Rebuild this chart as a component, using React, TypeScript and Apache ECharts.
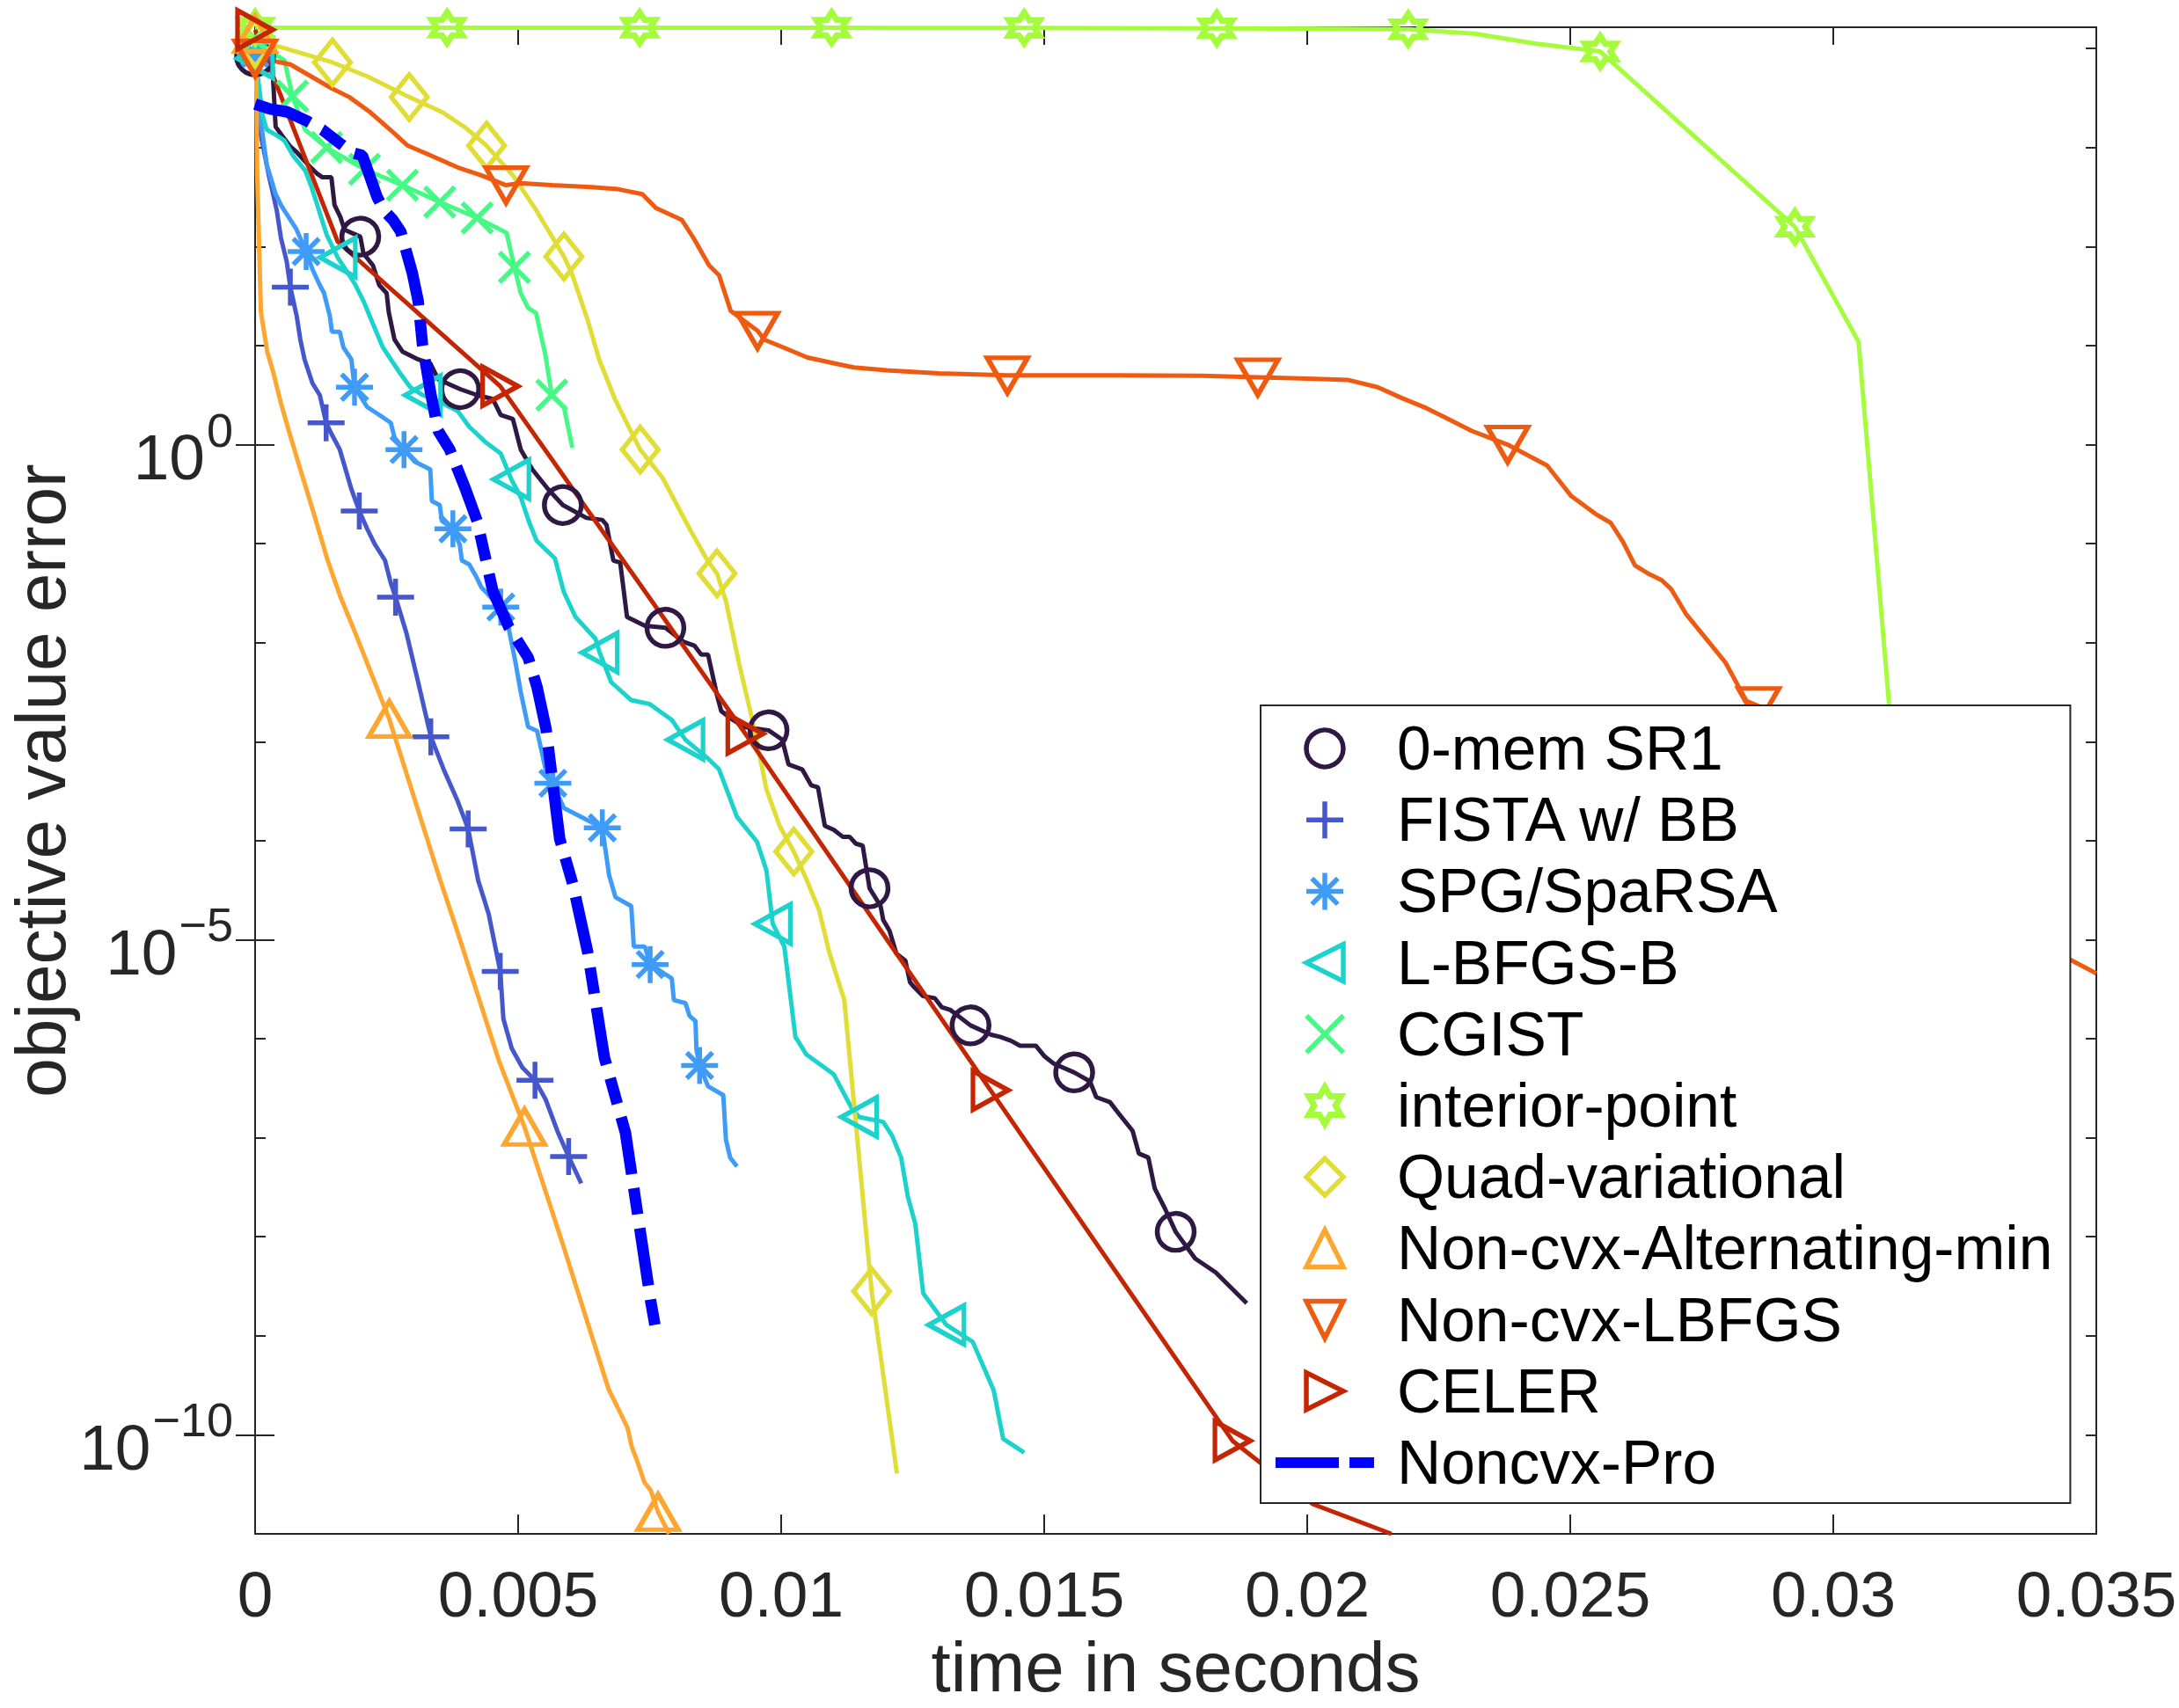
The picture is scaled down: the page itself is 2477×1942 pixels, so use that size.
import React, { useEffect, useRef } from 'react';
import * as echarts from 'echarts';

const FONT = '"Liberation Sans", Arial, Helvetica, sans-serif';
const AXIS_COLOR = '#262626';

// axis ranges / ticks
const X_MIN = 0;
const X_MAX = 0.035;
const X_INTERVAL = 0.005;
const Y_MIN = 1e-11;
const Y_MAX = Math.pow(10, 4.215);
const Y_LABEL_VALUES = [1, 1e-5, 1e-10];

const seriesNames = [
  '0-mem SR1',
  'FISTA w/ BB',
  'SPG/SpaRSA',
  'L-BFGS-B',
  'CGIST',
  'interior-point',
  'Quad-variational',
  'Non-cvx-Alternating-min',
  'Non-cvx-LBFGS',
  'CELER',
  'Noncvx-Pro',
];

const seriesColors = [
  '#2f1843',
  '#4557cb',
  '#3e9cf8',
  '#1bd3cc',
  '#46f884',
  '#a4fc3c',
  '#e1dd37',
  '#fda630',
  '#ef5a11',
  '#c42503',
  '#0000ff',
];

// points: [time (s), log10(objective value error), marker flag]
const sr1 = [
  [0, 3.92, 1], [0.00033, 3.81], [0.00039, 3.21], [0.0005, 3.13], [0.00067, 3.01], [0.00078, 2.96],
  [0.001, 2.83], [0.00117, 2.74], [0.00128, 2.7], [0.00145, 2.7], [0.00151, 2.42], [0.00162, 2.3],
  [0.0017, 2.17], [0.002, 2.1, 1], [0.00206, 1.93], [0.00224, 1.81], [0.00236, 1.61], [0.0025, 1.53],
  [0.00254, 1.34], [0.00265, 1.06], [0.0028, 0.94], [0.0031, 0.86], [0.00333, 0.82], [0.00348, 0.66],
  [0.0039, 0.56, 1], [0.00422, 0.5], [0.00452, 0.46], [0.00467, 0.3], [0.0049, 0.26], [0.00505, -0.05],
  [0.00527, -0.25], [0.00557, -0.45], [0.00585, -0.61, 1], [0.0063, -0.74], [0.0066, -0.76], [0.00668, -0.81],
  [0.00681, -1.17], [0.00694, -1.19], [0.00707, -1.74], [0.00741, -1.83], [0.0078, -1.85, 1], [0.00814, -1.99],
  [0.00835, -2.03], [0.00848, -2.12], [0.00861, -2.12], [0.00878, -2.53], [0.00886, -2.69], [0.00903, -2.76],
  [0.00929, -2.85], [0.00976, -2.885, 1], [0.01002, -2.98], [0.01014, -3.23], [0.0104, -3.28], [0.01057, -3.44],
  [0.0107, -3.46], [0.01083, -3.85], [0.011, -3.89], [0.01117, -3.96], [0.0113, -3.96], [0.01142, -4.03],
  [0.01155, -4.05], [0.01168, -4.48, 1], [0.01189, -4.66], [0.01194, -4.8], [0.01206, -4.91], [0.01219, -5.14],
  [0.01236, -5.21], [0.01245, -5.43], [0.01253, -5.48], [0.0127, -5.57], [0.01292, -5.59], [0.01305, -5.68],
  [0.01322, -5.71], [0.0136, -5.865, 1], [0.01399, -5.96], [0.01416, -5.98], [0.01437, -6.02], [0.01454, -6.07],
  [0.01484, -6.07], [0.01501, -6.18], [0.01518, -6.25], [0.01557, -6.34, 1], [0.01587, -6.43], [0.01599, -6.59],
  [0.01625, -6.64], [0.01638, -6.73], [0.01668, -6.93], [0.0168, -7.16], [0.01698, -7.2], [0.0171, -7.51],
  [0.0173, -7.72], [0.0175, -7.95, 1], [0.01787, -8.22], [0.01826, -8.36], [0.01885, -8.67],
];

const fista = [
  [0, 3.9, 1], [0.00006, 3.5], [0.00011, 3.12], [0.00026, 2.72], [0.00041, 2.37], [0.00049, 2.09],
  [0.0006, 1.85], [0.00067, 1.59, 1], [0.00079, 1.3], [0.00086, 1.06], [0.00094, 0.86], [0.00109, 0.62],
  [0.00123, 0.5], [0.00135, 0.22, 1], [0.00146, 0.1], [0.00161, -0.05], [0.00172, -0.25], [0.00183, -0.45],
  [0.00198, -0.67, 1], [0.00213, -0.85], [0.00228, -1.01], [0.00247, -1.17], [0.00258, -1.4], [0.00267, -1.54, 1],
  [0.00288, -1.91], [0.0031, -2.4], [0.00334, -2.95, 1], [0.0036, -3.3], [0.00385, -3.6], [0.00405, -3.88, 1],
  [0.00424, -4.4], [0.00444, -4.74], [0.00466, -5.32, 1], [0.00472, -5.8], [0.00488, -6.1], [0.00508, -6.29],
  [0.00532, -6.42, 1], [0.00552, -6.61], [0.00576, -6.95], [0.00596, -7.19, 1], [0.0062, -7.46],
];

const spg = [
  [0, 3.95, 1], [0.0001, 3.3], [0.00022, 2.83], [0.00039, 2.53], [0.0005, 2.41], [0.00078, 2.18],
  [0.00097, 1.95, 1], [0.00109, 1.77], [0.00123, 1.61], [0.00131, 1.53], [0.00142, 1.3], [0.00146, 1.14],
  [0.00161, 1.14], [0.00168, 0.98], [0.00183, 0.86], [0.00189, 0.58, 1], [0.00213, 0.38], [0.00236, 0.3],
  [0.00258, 0.22], [0.00265, 0.07], [0.00283, -0.05, 1], [0.00303, -0.17], [0.00333, -0.25], [0.00336, -0.57],
  [0.00351, -0.61], [0.00355, -0.77], [0.00376, -0.85, 1], [0.00389, -1.01], [0.00393, -1.17], [0.00407, -1.21],
  [0.00419, -1.32], [0.0043, -1.44], [0.00467, -1.64, 1], [0.0048, -1.8], [0.00495, -2.2], [0.00505, -2.5],
  [0.00519, -2.85], [0.00536, -2.89], [0.00553, -3.3], [0.00566, -3.42, 1], [0.00587, -3.67], [0.0066, -3.87, 1],
  [0.00673, -4.35], [0.00685, -4.57], [0.00715, -4.66], [0.0072, -5.07], [0.00741, -5.07], [0.00751, -5.25, 1],
  [0.00792, -5.39], [0.00796, -5.61], [0.00818, -5.64], [0.00826, -5.77], [0.00837, -5.82], [0.00839, -6.11],
  [0.00845, -6.27, 1], [0.00861, -6.48], [0.0089, -6.57], [0.00895, -7.02], [0.00903, -7.2], [0.00916, -7.29],
];

const lbfgsb = [
  [0, 3.9, 1], [0.00008, 3.6], [0.00014, 3.33], [0.00022, 3.18], [0.00039, 3.13], [0.00056, 3.07],
  [0.00072, 2.92], [0.00095, 2.77], [0.00106, 2.62], [0.00117, 2.44], [0.00136, 2.12], [0.00157, 1.89, 1],
  [0.00172, 1.77], [0.00191, 1.61], [0.00206, 1.45], [0.00224, 1.22], [0.00243, 0.98], [0.00258, 0.86],
  [0.00273, 0.74], [0.00295, 0.58], [0.00319, 0.5, 1], [0.00355, 0.42], [0.00385, 0.34], [0.00407, 0.18],
  [0.00437, 0.03], [0.00467, -0.09], [0.00487, -0.35, 1], [0.00505, -0.53], [0.0052, -0.77], [0.00535, -0.97],
  [0.0057, -1.15], [0.00587, -1.49], [0.00609, -1.74], [0.00647, -1.96], [0.00655, -2.1, 1], [0.00677, -2.4],
  [0.00715, -2.58], [0.0075, -2.62], [0.00792, -2.78], [0.00818, -2.98, 1], [0.00861, -3.17], [0.00882, -3.28],
  [0.00916, -3.76], [0.00954, -4.01], [0.00972, -4.3], [0.00984, -4.84, 1], [0.01006, -5.07], [0.01027, -5.98],
  [0.01048, -6.16], [0.011, -6.36], [0.01134, -6.7], [0.01148, -6.79, 1], [0.01194, -6.84], [0.01211, -6.98],
  [0.01228, -7.2], [0.01241, -7.6], [0.01255, -7.87], [0.0127, -8.57], [0.01314, -8.89, 1], [0.01364, -9.06],
  [0.01404, -9.55], [0.01422, -10.04], [0.01462, -10.18],
];

const cgist = [
  [0, 4.1, 1], [0.00035, 3.95], [0.00056, 3.88], [0.00071, 3.52, 1], [0.00095, 3.18], [0.00136, 3.0, 1],
  [0.00208, 2.78, 1], [0.0028, 2.62, 1], [0.00351, 2.45, 1], [0.00422, 2.29, 1], [0.00478, 2.14],
  [0.00493, 1.79, 1], [0.00505, 1.53], [0.00519, 1.38], [0.00534, 1.33], [0.00552, 0.9], [0.00564, 0.5, 1],
  [0.00587, 0.38], [0.00603, -0.03],
];

const interiorPoint = [
  [0, 4.21, 1], [0.00365, 4.21, 1], [0.00731, 4.21, 1], [0.01096, 4.21, 1], [0.01462, 4.208, 1],
  [0.01828, 4.205, 1], [0.02192, 4.196, 1], [0.02318, 4.15], [0.02433, 4.05], [0.02557, 3.97, 1],
  [0.02927, 2.2, 1], [0.03048, 1.04], [0.03106, -2.62], [0.0318, -7.3],
];

const quadVar = [
  [0, 4.05, 1], [0.00045, 4.02], [0.00147, 3.86, 1], [0.00213, 3.72], [0.00293, 3.51, 1], [0.00355, 3.36],
  [0.004, 3.2], [0.0044, 3.02, 1], [0.0049, 2.72], [0.00534, 2.37], [0.00587, 1.9, 1], [0.00602, 1.73],
  [0.00632, 1.26], [0.00654, 0.86], [0.00684, 0.46], [0.00714, 0.14], [0.00732, -0.05, 1], [0.00774, -0.33],
  [0.00826, -0.85], [0.0086, -1.17], [0.00878, -1.3, 1], [0.00895, -1.58], [0.0092, -2.21], [0.00946, -2.8],
  [0.00972, -3.48], [0.00997, -3.85], [0.01024, -4.11, 1], [0.01048, -4.39], [0.01072, -4.7], [0.01091, -5.12],
  [0.0112, -5.61], [0.01172, -8.55, 1], [0.0122, -10.39],
];

const altMin = [
  [0, 4.15, 1], [0.00002, 3.9], [0.00004, 2.72], [0.00008, 1.93], [0.00011, 1.34], [0.00023, 0.94],
  [0.00034, 0.74], [0.00049, 0.42], [0.00064, 0.14], [0.00086, -0.25], [0.00109, -0.65], [0.00138, -1.17],
  [0.00161, -1.52], [0.00191, -1.91], [0.00255, -2.77, 1], [0.00352, -4.4], [0.00384, -4.91], [0.00464, -6.23],
  [0.00512, -6.89, 1], [0.00584, -8.06], [0.00672, -9.54], [0.00688, -9.71], [0.00708, -9.93], [0.00716, -10.12],
  [0.00728, -10.29], [0.0074, -10.48], [0.00752, -10.56], [0.00766, -10.78, 1], [0.00787, -11.0],
];

const ncvxLbfgs = [
  [0, 3.9, 1], [0.00011, 3.87], [0.00039, 3.87], [0.00067, 3.84], [0.00106, 3.72], [0.00145, 3.6],
  [0.00179, 3.51], [0.00218, 3.36], [0.00257, 3.18], [0.0029, 3.02], [0.00325, 2.94], [0.00385, 2.8],
  [0.0043, 2.72], [0.00477, 2.62, 1], [0.00504, 2.64], [0.00564, 2.62], [0.00639, 2.6], [0.0069, 2.58],
  [0.00736, 2.53], [0.00762, 2.39], [0.00811, 2.27], [0.00833, 2.09], [0.00863, 1.81], [0.00882, 1.71],
  [0.00904, 1.35], [0.00955, 1.15, 1], [0.00968, 1.06], [0.01005, 0.98], [0.0105, 0.88], [0.01102, 0.82],
  [0.01138, 0.78], [0.012, 0.75], [0.013, 0.72], [0.0143, 0.7, 1], [0.016, 0.7], [0.018, 0.695],
  [0.01906, 0.68, 1], [0.01973, 0.67], [0.02077, 0.654], [0.02134, 0.58], [0.0218, 0.47], [0.02226, 0.37],
  [0.0226, 0.28], [0.02312, 0.14], [0.02381, 0.0, 1], [0.02456, -0.21], [0.02502, -0.52], [0.02548, -0.7],
  [0.02577, -0.79], [0.026, -0.98], [0.02623, -1.22], [0.02651, -1.31], [0.02674, -1.37], [0.02692, -1.46],
  [0.0272, -1.71], [0.02766, -2.01], [0.02795, -2.2], [0.02835, -2.59], [0.02858, -2.64, 1], [0.0316, -4.0],
  [0.0345, -5.2], [0.035, -5.34],
];

const celer = [
  [0, 4.19, 1], [0.00157, 2.05], [0.00466, 0.59, 1], [0.00932, -2.92, 1], [0.01398, -6.52, 1],
  [0.01858, -10.06, 1], [0.02011, -10.7], [0.0216, -11.0],
];

const noncvxPro = [
  [0, 3.44], [0.00028, 3.39], [0.00061, 3.36], [0.00098, 3.27], [0.00128, 3.18], [0.00162, 3.04],
  [0.00184, 2.95], [0.00204, 2.92], [0.00218, 2.71], [0.00232, 2.5], [0.00246, 2.36], [0.00262, 2.27],
  [0.00277, 2.15], [0.00299, 1.73], [0.0031, 1.45], [0.00318, 1.02], [0.00333, 0.54], [0.00348, 0.14],
  [0.0037, -0.05], [0.004, -0.45], [0.00422, -0.77], [0.00452, -1.48], [0.00482, -1.84], [0.00519, -2.15],
  [0.00536, -2.45], [0.00553, -2.87], [0.00579, -3.98], [0.00604, -4.44], [0.00632, -5.12], [0.00664, -6.19],
  [0.00704, -6.95], [0.00728, -7.8], [0.00752, -8.65], [0.0076, -8.89],
];

const seriesPoints = [sr1, fista, spg, lbfgsb, cgist, interiorPoint, quadVar, altMin, ncvxLbfgs, celer, noncvxPro];

// marker shapes (MATLAB o + * < x h d ^ v >)
const SYMBOLS = [
  'circle',
  'path://M50 0L50 100M0 50L100 50',
  'path://M50 0L50 100M0 50L100 50M15 15L85 85M85 15L15 85',
  'path://M0 50L100 0L100 100Z',
  'path://M0 0L100 100M100 0L0 100',
  'path://M50 0L35.57 25L6.7 25L21.13 50L6.7 75L35.57 75L50 100L64.43 75L93.3 75L78.87 50L93.3 25L64.43 25Z',
  'path://M50 0L100 50L50 100L0 50Z',
  'path://M50 0L100 100L0 100Z',
  'path://M0 0L100 0L50 100Z',
  'path://M100 50L0 0L0 100Z',
  'none',
];
const SYMBOL_SIZES: any[] = [42, 42, 42, [40, 44], 34, 35, [41, 51], [46, 40], [46, 40], [40, 44], 0];
const SYMBOL_STROKES = [5.5, 5.5, 5.5, 5.5, 5.5, 7, 5.5, 5.5, 5.5, 5.5, 0];
const PRO_LEGEND_ICON = 'path://M0 0H72V12H0ZM84 0H112V12H84Z';

function yLabel(v: number): string {
  const lg = Math.log10(v);
  const e = Math.round(lg);
  if (Math.abs(lg - e) > 1e-6 || e % 5 !== 0) return '';
  const s = e < 0 ? '\u2212' + String(-e) : String(e);
  return '{b|10}{s|' + s + '}';
}

export default function App() {
  const ref = useRef<HTMLDivElement>(null);

  useEffect(() => {
    document.body.style.margin = '0';
    if (!ref.current) return;
    const chart = echarts.init(ref.current, undefined, { renderer: 'svg' });

    const axisLine = { show: true, onZero: false, lineStyle: { color: AXIS_COLOR, width: 2 } };
    const tickStyle = { color: AXIS_COLOR, width: 2 };

    const series: any[] = seriesNames.map((name, i) => {
      const color = seriesColors[i];
      const data = seriesPoints[i].map((p) => [p[0], Math.pow(10, p[1]), p[2] || 0]);
      if (i === 10) {
        return {
          type: 'line', name, data, symbol: 'none', clip: false, silent: true,
          lineStyle: { color, width: 13, type: [66, 16, 30, 16], cap: 'butt' },
          itemStyle: { color },
          emphasis: { disabled: true },
          z: 3,
        };
      }
      const sym = SYMBOLS[i];
      return {
        type: 'line', name, data,
        symbol: (v: number[]) => (v[2] ? sym : 'none'),
        symbolSize: SYMBOL_SIZES[i],
        showSymbol: true,
        clip: false, silent: true,
        lineStyle: { color, width: 5 },
        itemStyle: { color: 'rgba(255,255,255,0)', borderColor: color, borderWidth: SYMBOL_STROKES[i] },
        emphasis: { disabled: true },
        z: 2,
      };
    });

    const legendData = seriesNames.map((name, i) => {
      if (i === 10) {
        return { name, icon: PRO_LEGEND_ICON, itemStyle: { color: seriesColors[i], borderWidth: 0 } };
      }
      return {
        name,
        icon: SYMBOLS[i],
        itemStyle: { color: 'rgba(255,255,255,0)', borderColor: seriesColors[i], borderWidth: SYMBOL_STROKES[i] },
      };
    });

    const yBase = {
      type: 'log', logBase: 10, min: Y_MIN, max: Y_MAX,
      splitLine: { show: false },
      minorTick: { show: false },
    };

    chart.setOption({
      animation: false,
      backgroundColor: '#ffffff',
      textStyle: { fontFamily: FONT },
      grid: { left: 290, right: 94, top: 31, bottom: 198, containLabel: false, outerBoundsMode: 'none' },
      xAxis: [
        {
          type: 'value', min: X_MIN, max: X_MAX, interval: X_INTERVAL, position: 'bottom',
          axisLine, axisTick: { show: true, inside: true, length: 22, lineStyle: tickStyle },
          axisLabel: { show: true, margin: 32, fontSize: 73, fontFamily: FONT, color: AXIS_COLOR },
          splitLine: { show: false },
          name: 'time in seconds', nameLocation: 'middle', nameGap: 121,
          nameTextStyle: { fontSize: 80, lineHeight: 60, fontFamily: FONT, color: AXIS_COLOR },
        },
        {
          type: 'value', min: X_MIN, max: X_MAX, interval: X_INTERVAL, position: 'top',
          axisLine, axisTick: { show: true, inside: true, length: 20, lineStyle: tickStyle },
          axisLabel: { show: false }, splitLine: { show: false },
        },
      ],
      yAxis: [
        {
          ...yBase, position: 'left', interval: 1,
          axisLine, axisTick: { show: true, inside: true, length: 12, lineStyle: tickStyle },
          axisLabel: { show: false },
          name: 'objective value error', nameLocation: 'middle', nameGap: 214,
          nameTextStyle: { fontSize: 80, lineHeight: 60, fontFamily: FONT, color: AXIS_COLOR },
        },
        {
          ...yBase, position: 'right', interval: 1,
          axisLine, axisTick: { show: true, inside: true, length: 12, lineStyle: tickStyle },
          axisLabel: { show: false },
        },
        {
          ...yBase, position: 'left',
          axisLine: { show: false },
          axisTick: { show: true, inside: true, length: 22, lineStyle: tickStyle, customValues: Y_LABEL_VALUES },
          axisLabel: {
            show: true, margin: 25, customValues: Y_LABEL_VALUES, formatter: yLabel,
            rich: {
              b: {
                fontSize: 73, fontFamily: FONT, color: AXIS_COLOR, verticalAlign: 'middle',
                padding: [28, 0, 0, 0],
              },
              s: {
                fontSize: 54, fontFamily: FONT, color: AXIS_COLOR, verticalAlign: 'middle',
                padding: [0, 0, 34, 2],
              },
            },
          },
        },
        {
          ...yBase, position: 'right',
          axisLine: { show: false },
          axisTick: { show: true, inside: true, length: 22, lineStyle: tickStyle, customValues: Y_LABEL_VALUES },
          axisLabel: { show: false },
        },
      ],
      legend: {
        show: true, orient: 'vertical', left: 1433, top: 802,
        padding: [14, 20, 11, 17],
        itemWidth: 112, itemHeight: 42, itemGap: 11.2,
        backgroundColor: '#ffffff', borderColor: AXIS_COLOR, borderWidth: 2,
        selectedMode: false,
        textStyle: { fontFamily: FONT, fontSize: 69.5, color: '#000000', lineHeight: 70, padding: [0, 0, 0, 21] },
        data: legendData,
      },
      series,
    });

    return () => chart.dispose();
  }, []);

  return <div ref={ref} style={{ width: 2477, height: 1942 }} />;
}
